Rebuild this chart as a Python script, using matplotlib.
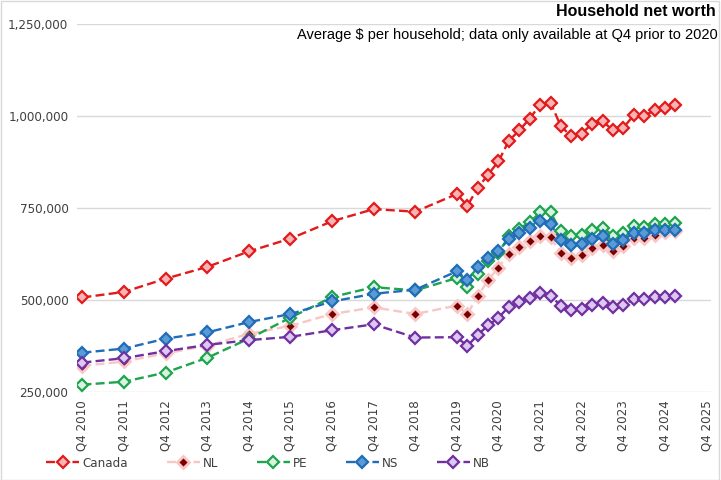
import matplotlib
matplotlib.use("Agg")
import matplotlib.pyplot as plt
from matplotlib import font_manager
from matplotlib.font_manager import FontProperties
from matplotlib.ticker import FuncFormatter
from matplotlib.patches import Rectangle

# Периоды: до 2020 только Q4, далее поквартально
periods = [f"Q4 {y}" for y in range(2010, 2020)] + \
          [f"Q{q} {y}" for y in range(2020, 2025) for q in range(1, 5)] + ["Q1 2025"]

canada = [507, 522, 558, 590, 632, 667, 714, 747, 740, 788,
          756, 804, 841, 877, 933, 961, 993, 1031, 1036, 972, 945,
          952, 979, 986, 961, 968, 1002, 1001, 1015, 1022, 1031]
nl = [321, 333, 355, 376, 408, 430, 462, 480, 462, 485,
      462, 510, 554, 588, 626, 643, 659, 673, 671, 627, 615,
      623, 641, 650, 634, 648, 669, 669, 678, 684, 687]
pe = [270, 278, 303, 343, 395, 452, 508, 535, 526, 560,
      535, 571, 606, 629, 673, 694, 711, 738, 738, 687, 673,
      677, 689, 697, 675, 682, 702, 698, 707, 707, 709]
ns = [357, 368, 395, 412, 440, 462, 496, 517, 528, 578,
      554, 590, 615, 633, 666, 682, 696, 714, 707, 662, 649,
      652, 667, 673, 653, 664, 682, 682, 689, 691, 691]
nb = [330, 342, 361, 378, 391, 400, 418, 434, 398, 399,
      375, 405, 431, 452, 482, 494, 505, 520, 512, 484, 472,
      475, 487, 493, 480, 487, 502, 502, 508, 508, 511]

tick_labels = [f"Q4 {y}" for y in range(2010, 2026)]


def narrow_font(size):
    """Ищет узкий прямой шрифт, иначе берёт Liberation Sans поменьше."""
    for f in font_manager.fontManager.ttflist:
        if f.name in ("Liberation Sans Narrow", "DejaVu Sans") and \
                f.stretch in ("condensed", "semi-condensed") and \
                f.style == "normal" and f.weight in (400, "normal", "regular", "book"):
            return FontProperties(fname=f.fname, size=size)
    return FontProperties(family="Liberation Sans", size=size * 0.95)


def quarter_index(label):
    """Номер квартала относительно Q4 2010."""
    q, y = label.split()
    return (int(y) - 2010) * 4 + int(q[1]) - 4


x = [quarter_index(p) for p in periods]
xticks = [quarter_index(t) for t in tick_labels]
tick_font = narrow_font(9.5)

fig = plt.figure(figsize=(7.21, 4.8), dpi=100)
ax = fig.add_axes([0.1064, 0.1833, 0.8793, 0.7667])

series = [
    ("Canada", canada, dict(color="#E31A1C", marker="D", ms=6, mfc="#F8B4B4", mec="#E31A1C", mew=1.6)),
    ("NL", nl, dict(color="#F9C6C6", marker="D", ms=6, mfc="#7A0000", mec="#F9C6C6", mew=2.0)),
    ("PE", pe, dict(color="#1EA34E", marker="D", ms=6, mfc="#D8F3E0", mec="#1EA34E", mew=1.6)),
    ("NS", ns, dict(color="#1F6DB8", marker="D", ms=6, mfc="#5B9BD5", mec="#1F6DB8", mew=1.6)),
    ("NB", nb, dict(color="#7030A0", marker="D", ms=6, mfc="#DCC8F0", mec="#7030A0", mew=1.6)),
]

for name, vals, style in series:
    ax.plot(x, [v * 1000 for v in vals], ls=(0, (3.8, 1.8)), lw=1.7, label=name, **style)

ax.set_xlim(-0.55, 60.4)
ax.set_ylim(250000, 1250000)
ax.set_yticks(range(250000, 1250001, 250000))
ax.yaxis.set_major_formatter(FuncFormatter(lambda v, p: f"{int(v):,}"))
ax.set_xticks(xticks)
ax.set_xticklabels(tick_labels, rotation=90)
ax.grid(axis="y", color="#D9D9D9", lw=1)
ax.set_axisbelow(True)
for s in ax.spines.values():
    s.set_visible(False)
ax.tick_params(length=0, colors="#404040", pad=6)
for lab in ax.get_xticklabels() + ax.get_yticklabels():
    lab.set_fontproperties(tick_font)

fig.text(0.993, 0.975, "Household net worth", ha="right", va="center",
         fontsize=11.5, fontweight="bold", family="Liberation Sans")
fig.text(0.996, 0.928, "Average $ per household; data only available at Q4 prior to 2020",
         ha="right", va="center", fontsize=10.5, family="Liberation Sans")

leg = fig.legend(loc="center", bbox_to_anchor=(0.372, 0.035), ncol=5, frameon=False,
                 prop=tick_font, handlelength=2.5,
                 columnspacing=2.9, handletextpad=0.25)
for t in leg.get_texts():
    t.set_color("#404040")

fig.patches.append(Rectangle((0.001, 0.001), 0.996, 0.996, transform=fig.transFigure,
                             fill=False, edgecolor="#D9D9D9", lw=1))

plt.savefig("out.png", dpi=100)
